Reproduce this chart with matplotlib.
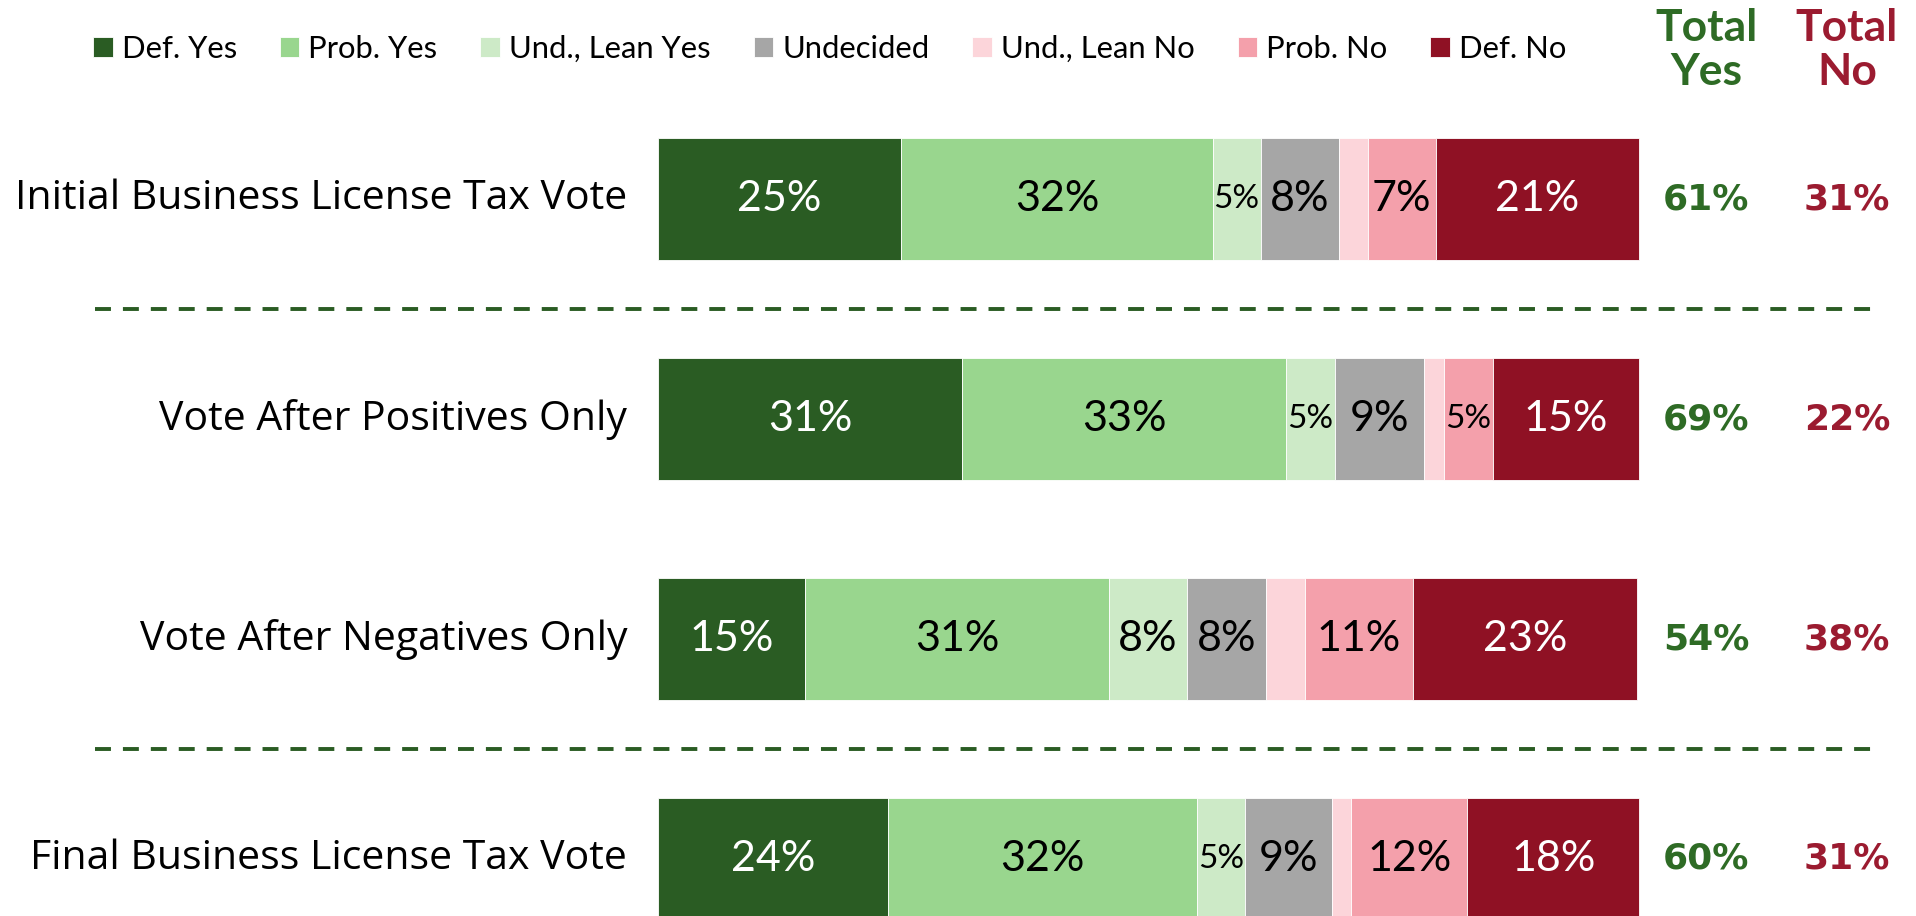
import numpy as np
import matplotlib.pyplot as plt

# data (bar widths in %, labels as printed)
rows = ["Initial Business License Tax Vote", "Vote After Positives Only",
        "Vote After Negatives Only", "Final Business License Tax Vote"]
cats = ["Def. Yes", "Prob. Yes", "Und., Lean Yes", "Undecided",
        "Und., Lean No", "Prob. No", "Def. No"]
def_yes = [24.8, 31.0, 15.0, 23.5]
prob_yes = [31.8, 33.1, 31.0, 31.5]
lean_yes = [4.9, 5.0, 8.0, 4.9]
undecided = [8.0, 9.1, 8.0, 8.9]
lean_no = [2.9, 2.0, 4.0, 1.9]
prob_no = [7.0, 5.0, 11.0, 11.9]
def_no = [20.7, 14.9, 22.9, 17.5]
shown = [[25, 32, 5, 8, None, 7, 21],
         [31, 33, 5, 9, None, 5, 15],
         [15, 31, 8, 8, None, 11, 23],
         [24, 32, 5, 9, None, 12, 18]]
total_yes = [61, 69, 54, 60]
total_no = [31, 22, 38, 31]

colors = ["#2a5c23", "#99d68e", "#cdeac7", "#a6a6a6", "#fcd5da", "#f4a0ab", "#8f1124"]
txt_col = ["white", "black", "black", "black", "black", "black", "white"]
green = "#2e6b25"
red = "#9b1b30"

W, H = 1916, 916
fig = plt.figure(figsize=(W / 100, H / 100), dpi=100)
# axes: x 0..100 spans bar area, y in row units
x0, x1 = 658, 1638
ax = fig.add_axes([x0 / W, 0, (x1 - x0) / W, 1])
ax.set_xlim(0, 100)
top = -199 / 220
bot = (H - 199) / 220
ax.set_ylim(bot, top)
ax.axis("off")

series = [def_yes, prob_yes, lean_yes, undecided, lean_no, prob_no, def_no]
y = np.arange(len(rows))
left = np.zeros(len(rows))
for k, vals in enumerate(series):
    vals = np.array(vals)
    ax.barh(y, vals, left=left, height=0.555, color=colors[k],
            edgecolor="white", linewidth=0.6, label=cats[k], clip_on=False)
    for i in range(len(rows)):
        lab = shown[i][k]
        if lab is None:
            continue
        fs = 24 if vals[i] < 6 else 31
        ax.text(left[i] + vals[i] / 2, y[i], f"{lab}%", ha="center", va="center",
                color=txt_col[k], fontsize=fs, family="Lato")
    left += vals

px = lambda p: (p - x0) / (x1 - x0) * 100
for i, r in enumerate(rows):
    ax.text(px(627), y[i], r, ha="right", va="center", fontsize=29.5,
            family="Open Sans", color="black")
    ax.text(px(1706), y[i], f"{total_yes[i]}%", ha="center", va="center",
            fontsize=26, fontweight="bold", family="DejaVu Sans", color=green)
    ax.text(px(1847), y[i], f"{total_no[i]}%", ha="center", va="center",
            fontsize=26, fontweight="bold", family="DejaVu Sans", color=red)

for yy in [0.5, 2.5]:
    ax.plot([px(95), px(1875)], [yy, yy], color="#2a5c23", lw=2.8,
            ls=(0, (4.1, 3.08)), clip_on=False)

hy = (50 - 199) / 220
ax.text(px(1706), hy, "Total\nYes", ha="center", va="center", fontsize=32,
        fontweight="bold", family="Lato", color=green, linespacing=1.1)
ax.text(px(1847), hy, "Total\nNo", ha="center", va="center", fontsize=32,
        fontweight="bold", family="Lato", color=red, linespacing=1.1)

leg = fig.legend(loc="center left", bbox_to_anchor=(93 / W, 1 - 49 / H), ncol=7,
                 frameon=False, prop={"family": "Lato", "size": 22.35},
                 handlelength=0.63, handleheight=0.62, handletextpad=0.29,
                 columnspacing=1.385, borderaxespad=0, borderpad=0)

fig.savefig("out.png", dpi=100)
